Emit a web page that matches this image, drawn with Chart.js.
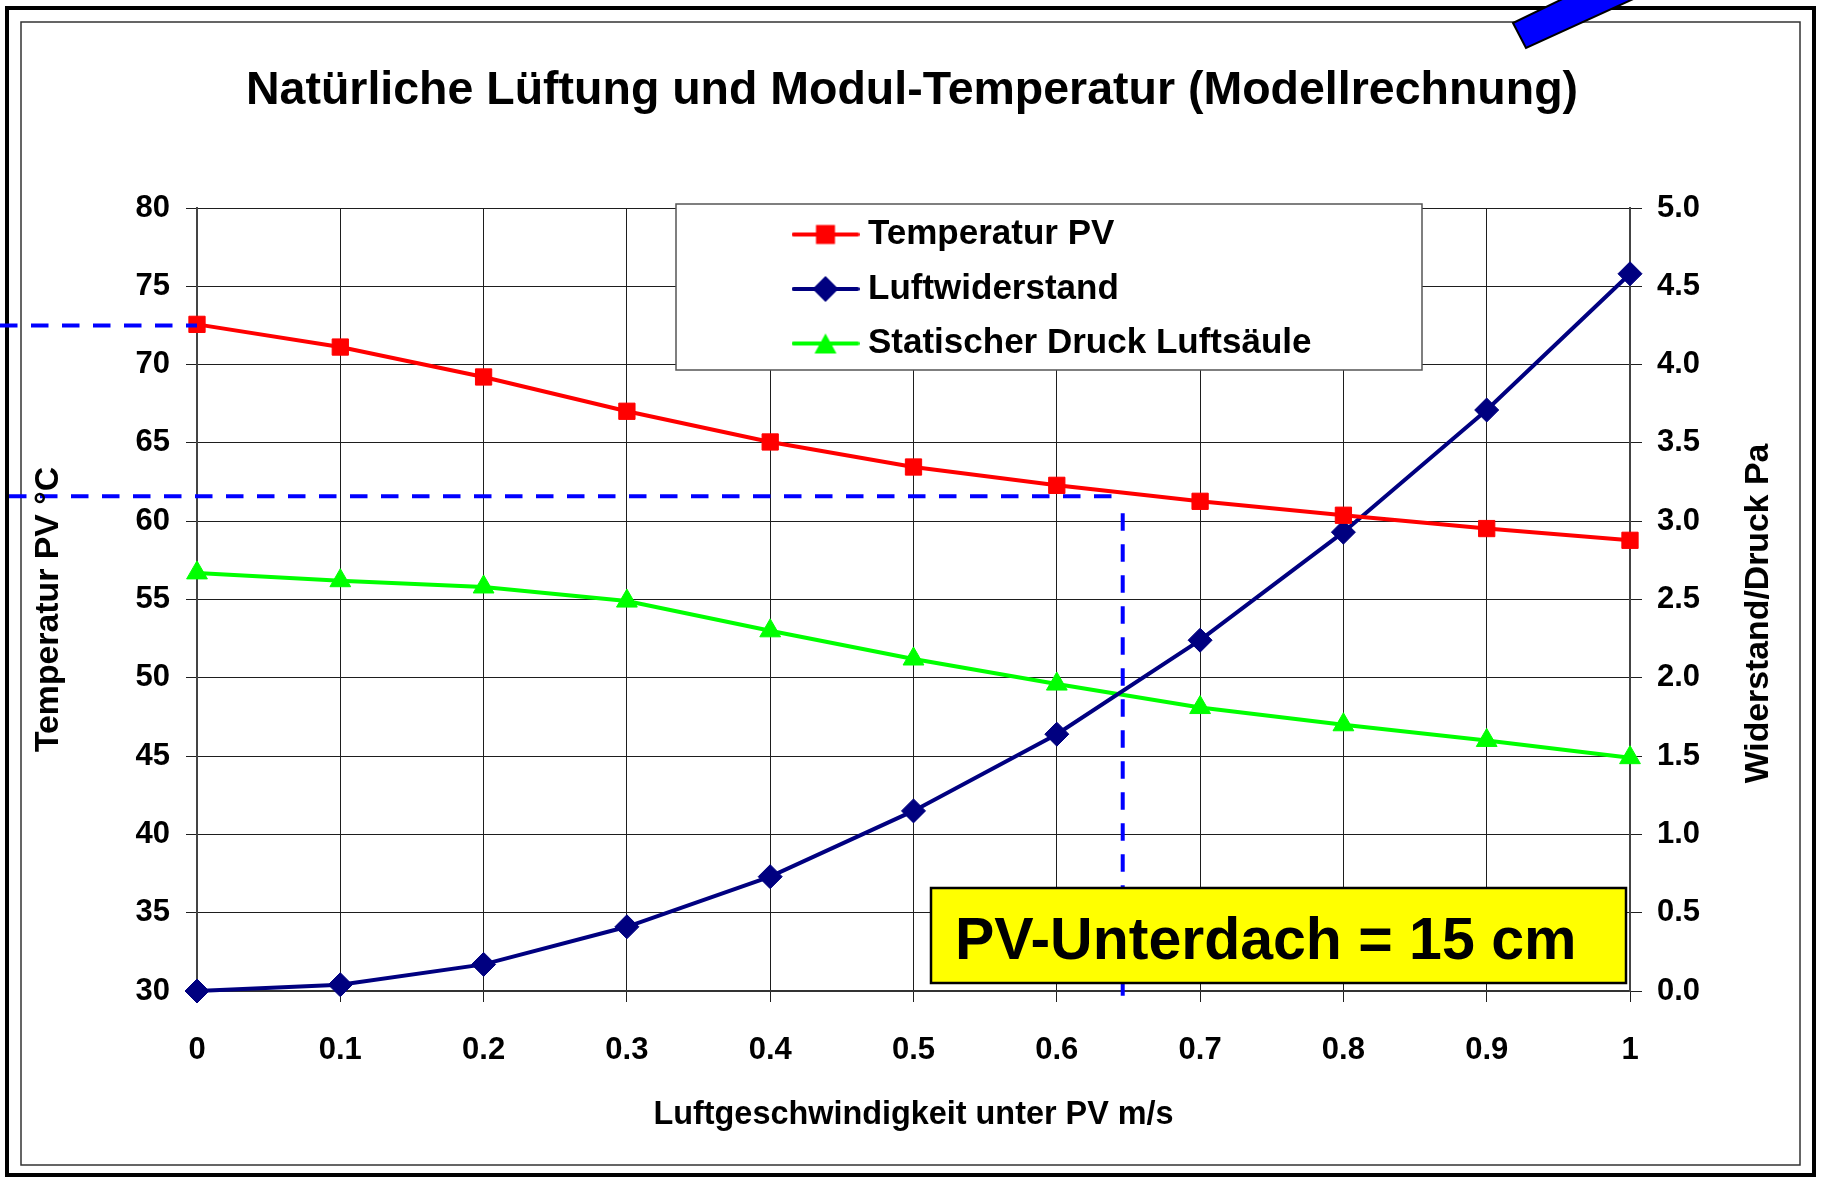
<!DOCTYPE html>
<html lang="de">
<head>
<meta charset="utf-8">
<title>Natürliche Lüftung und Modul-Temperatur</title>
<script src="https://cdn.jsdelivr.net/npm/chart.js@4.4.1/dist/chart.umd.min.js"></script>
<style>
  html, body { margin: 0; padding: 0; background: #fff; }
  #wrap { width: 1824px; height: 1177px; position: relative; }
</style>
</head>
<body>
<div id="wrap"><canvas id="chart"></canvas></div>
<script>
// values
const speeds = [0, 0.1, 0.2, 0.3, 0.4, 0.5, 0.6, 0.7, 0.8, 0.9, 1];
const speedLabels = ['0', '0.1', '0.2', '0.3', '0.4', '0.5', '0.6', '0.7', '0.8', '0.9', '1'];
const tempPV = [72.57, 71.12, 69.21, 67.02, 65.06, 63.46, 62.29, 61.27, 60.38, 59.53, 58.78];
const luftwiderstand = [0, 0.04, 0.17, 0.41, 0.73, 1.15, 1.64, 2.24, 2.93, 3.71, 4.58];
const statischerDruck = [2.67, 2.62, 2.58, 2.49, 2.30, 2.12, 1.96, 1.81, 1.70, 1.60, 1.49];
const tempTicks = [30, 35, 40, 45, 50, 55, 60, 65, 70, 75, 80];
const pressTicks = [0, 0.5, 1, 1.5, 2, 2.5, 3, 3.5, 4, 4.5, 5];
const pressLabels = ['0.0', '0.5', '1.0', '1.5', '2.0', '2.5', '3.0', '3.5', '4.0', '4.5', '5.0'];

// dashed reading lines: temperature at v=0, temperature at the operating point
const markTemps = [72.5, 61.6];
const markSpeed = 0.646;

const FONT = "'Liberation Sans', Arial, Helvetica, sans-serif";

function makeIcon(color, shape) {
  const c = document.createElement('canvas');
  c.width = 68; c.height = 30;
  const g = c.getContext('2d');
  g.strokeStyle = color; g.fillStyle = color;
  g.lineWidth = 4; g.lineCap = 'round';
  g.beginPath(); g.moveTo(2, 15); g.lineTo(66, 15); g.stroke();
  g.beginPath();
  if (shape === 'square') {
    g.rect(24.5, 5.5, 19, 19);
  } else if (shape === 'diamond') {
    g.moveTo(34, 2); g.lineTo(47, 15); g.lineTo(34, 28); g.lineTo(21, 15); g.closePath();
  } else {
    g.moveTo(34, 5); g.lineTo(45, 25); g.lineTo(23, 25); g.closePath();
  }
  g.fill();
  return c;
}
const legendIcons = [makeIcon('#ff0000', 'square'), makeIcon('#000080', 'diamond'), makeIcon('#00ff00', 'triangle')];

function sideTitle(ctx, text, x, y) {
  ctx.save();
  ctx.font = 'bold 33.8px ' + FONT;
  ctx.fillStyle = '#000';
  ctx.textAlign = 'center';
  ctx.textBaseline = 'middle';
  ctx.translate(x, y);
  ctx.rotate(-Math.PI / 2);
  ctx.fillText(text, 0, 0);
  ctx.restore();
}

const sheet = {
  id: 'sheet',
  beforeDraw(chart) {
    const ctx = chart.ctx;
    ctx.save();
    ctx.fillStyle = '#fff';
    ctx.fillRect(0, 0, chart.width, chart.height);
    ctx.strokeStyle = '#000';
    ctx.lineWidth = 4;
    ctx.strokeRect(7, 8, 1807, 1167);
    ctx.strokeStyle = '#333';
    ctx.lineWidth = 1.5;
    ctx.strokeRect(21, 22, 1779, 1143);
    ctx.restore();
  },
  afterLayout(chart) {
    // legend sits inside the plot, in a white framed box
    const lg = chart.legend;
    Object.assign(lg, { left: 781, top: 197.5, right: 1422, bottom: 420, width: 641, height: 222.5 });
    if (!lg._boxed) {
      const base = lg.draw;
      lg.draw = function () {
        const c = this.ctx;
        c.save();
        c.fillStyle = '#fff';
        c.fillRect(676, 204, 746, 166);
        c.strokeStyle = '#555';
        c.lineWidth = 1.5;
        c.strokeRect(676, 204, 746, 166);
        c.restore();
        base.call(this);
      };
      lg._boxed = true;
    }
  },
  afterDraw(chart) {
    const ctx = chart.ctx;
    const area = chart.chartArea;
    const xs = chart.scales.x, ys = chart.scales.y;
    ctx.save();

    // dashed reading lines
    ctx.strokeStyle = '#0000ff';
    ctx.lineWidth = 4;
    ctx.setLineDash([17.5, 13.5]);
    const y1 = ys.getPixelForValue(markTemps[0]);
    const y2 = ys.getPixelForValue(markTemps[1]);
    const xv = xs.getPixelForValue(markSpeed);
    ctx.beginPath(); ctx.moveTo(0, y1); ctx.lineTo(area.left, y1); ctx.stroke();
    ctx.beginPath(); ctx.moveTo(9, y2); ctx.lineTo(xv, y2); ctx.stroke();
    ctx.beginPath(); ctx.moveTo(xv, y2 + 17); ctx.lineTo(xv, area.bottom + 10); ctx.stroke();
    ctx.setLineDash([]);

    // yellow note
    ctx.fillStyle = '#ffff00';
    ctx.fillRect(931, 888, 695, 95);
    ctx.strokeStyle = '#000';
    ctx.lineWidth = 2.5;
    ctx.strokeRect(931, 888, 695, 95);
    ctx.fillStyle = '#000';
    ctx.font = 'bold 59px ' + FONT;
    ctx.textAlign = 'left';
    ctx.textBaseline = 'alphabetic';
    ctx.fillText('PV-Unterdach = 15 cm', 955, 959);

    // vertical axis titles, both reading upwards
    const mid = (area.top + area.bottom) / 2;
    sideTitle(ctx, 'Temperatur PV °C', 49, mid + 10);
    sideTitle(ctx, 'Widerstand/Druck Pa', 1759, mid + 14);

    // blue strip in the top right corner
    ctx.fillStyle = '#0000ff';
    ctx.strokeStyle = '#000';
    ctx.lineWidth = 2;
    ctx.beginPath();
    ctx.moveTo(1513, 23); ctx.lineTo(1526, 48); ctx.lineTo(1653, -10); ctx.lineTo(1581, -10);
    ctx.closePath();
    ctx.fill(); ctx.stroke();
    ctx.restore();
  }
};

const tickFont = { family: FONT, size: 31, weight: 'bold' };
const gridColor = '#1e1e1e';

new Chart(document.getElementById('chart'), {
  type: 'line',
  data: {
    datasets: [
      {
        label: 'Temperatur PV',
        data: speeds.map((v, i) => ({ x: v, y: tempPV[i] })),
        yAxisID: 'y',
        borderColor: '#ff0000', backgroundColor: '#ff0000',
        borderWidth: 4, pointStyle: 'rect', pointRadius: 11.5, pointBorderWidth: 1,
        clip: false
      },
      {
        label: 'Luftwiderstand',
        data: speeds.map((v, i) => ({ x: v, y: luftwiderstand[i] })),
        yAxisID: 'y2',
        borderColor: '#000080', backgroundColor: '#000080',
        borderWidth: 4, pointStyle: 'rectRot', pointRadius: 12, pointBorderWidth: 1,
        clip: false
      },
      {
        label: 'Statischer Druck Luftsäule',
        data: speeds.map((v, i) => ({ x: v, y: statischerDruck[i] })),
        yAxisID: 'y2',
        borderColor: '#00ff00', backgroundColor: '#00ff00',
        borderWidth: 4, pointStyle: 'triangle', pointRadius: 12, pointBorderWidth: 1,
        clip: false
      }
    ]
  },
  options: {
    responsive: true,
    maintainAspectRatio: false,
    animation: false,
    events: [],
    layout: { padding: 0 },
    elements: { line: { tension: 0 } },
    plugins: {
      title: {
        display: true,
        text: 'Natürliche Lüftung und Modul-Temperatur (Modellrechnung)',
        color: '#000',
        font: { family: FONT, size: 46.5, weight: 'bold' },
        padding: { top: 62.9, bottom: 89.3 }
      },
      legend: {
        position: 'chartArea',
        align: 'start',
        labels: {
          color: '#000',
          font: { family: FONT, size: 35, weight: 'bold' },
          usePointStyle: true,
          pointStyleWidth: 50,
          padding: 19.5,
          generateLabels(chart) {
            const items = Chart.defaults.plugins.legend.labels.generateLabels(chart);
            items.forEach((it, i) => { it.pointStyle = legendIcons[i]; });
            return items;
          }
        }
      },
      tooltip: { enabled: false }
    },
    scales: {
      x: {
        type: 'linear',
        min: 0, max: 1,
        afterBuildTicks: s => { s.ticks = speeds.map(v => ({ value: v })); },
        afterFit: s => { s.height = 186; },
        ticks: {
          autoSkip: false, maxRotation: 0, padding: 29.5,
          color: '#000', font: tickFont,
          callback: (v, i) => speedLabels[i]
        },
        grid: { color: gridColor, lineWidth: 1, tickLength: 11 },
        border: { color: '#333', width: 2 },
        title: {
          display: true,
          text: 'Luftgeschwindigkeit unter PV m/s',
          color: '#000',
          font: { family: FONT, size: 32.4, weight: 'bold' },
          padding: { top: 0, bottom: 42.2 }
        }
      },
      y: {
        position: 'left',
        min: 30, max: 80,
        afterBuildTicks: s => { s.ticks = tempTicks.map(v => ({ value: v })); },
        afterFit: s => { s.width = 197; },
        ticks: { padding: 16, color: '#000', font: tickFont },
        grid: { color: gridColor, lineWidth: 1, tickLength: 11 },
        border: { color: '#444', width: 2 }
      },
      y2: {
        position: 'right',
        min: 0, max: 5,
        afterBuildTicks: s => { s.ticks = pressTicks.map(v => ({ value: v })); },
        afterFit: s => { s.width = 194; },
        ticks: {
          padding: 15, color: '#000', font: tickFont,
          callback: (v, i) => pressLabels[i]
        },
        grid: { drawOnChartArea: false, color: gridColor, lineWidth: 1, tickLength: 12 },
        border: { color: '#444', width: 2 }
      }
    }
  },
  plugins: [sheet]
});
</script>
</body>
</html>
